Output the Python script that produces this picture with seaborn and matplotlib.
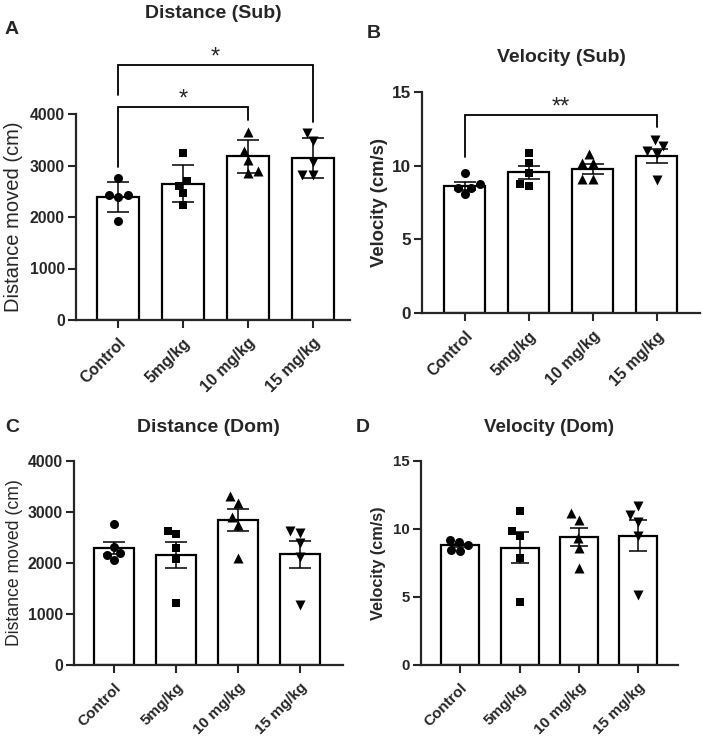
import matplotlib
matplotlib.use("Agg")
import matplotlib.pyplot as plt
import seaborn as sns
import numpy as np

# ---------------- data ----------------
categories = ["Control", "5mg/kg", "10 mg/kg", "15 mg/kg"]
markers = ["o", "s", "^", "v"]
marker_sizes = [6.5, 6.3, 7.2, 7.2]

# A: Distance (Sub)
dist_sub_points = [
    [2750, 2420, 2390, 2420, 1920],
    [3240, 2690, 2610, 2460, 2230],
    [3650, 3290, 3110, 2850, 2900],
    [3640, 3480, 3060, 2820, 2820],
]
dist_sub_mean = [2380, 2645, 3175, 3145]
dist_sub_err = [290, 363, 318, 382]

# B: Velocity (Sub)
vel_sub_points = [
    [9.52, 8.73, 8.05, 8.46, 8.50],
    [10.83, 10.20, 9.47, 8.64, 8.75],
    [10.78, 10.15, 10.15, 9.10, 9.10],
    [11.32, 11.73, 11.00, 10.78, 9.02],
]
vel_sub_mean = [8.63, 9.54, 9.77, 10.65]
vel_sub_err = [0.28, 0.45, 0.33, 0.45]

# C: Distance (Dom)
dist_dom_points = [
    [2765, 2052, 2190, 2320, 2157],
    [2627, 2569, 2288, 2072, 1209],
    [3314, 3183, 2900, 2740, 2092],
    [2634, 2595, 2386, 2111, 1176],
]
dist_dom_mean = [2295, 2150, 2840, 2170]
dist_dom_err = [120, 255, 215, 265]

# D: Velocity (Dom)
vel_dom_points = [
    [9.19, 8.46, 8.82, 9.07, 8.41],
    [11.35, 9.88, 9.49, 7.84, 4.61],
    [11.15, 10.66, 9.31, 8.58, 7.16],
    [11.69, 11.03, 10.54, 9.51, 5.15],
]
vel_dom_mean = [8.80, 8.63, 9.40, 9.50]
vel_dom_err = [0.13, 1.14, 0.68, 1.14]

# significance brackets: (group i, group j, bar level, left leg end, right leg end, label)
sig_dist_sub = [(0, 2, 4130, 2980, 3880, "*"), (0, 3, 4950, 4370, 3850, "*")]
sig_vel_sub = [(0, 3, 13.42, 10.6, 12.63, "**")]

yticks_dist = [0, 1000, 2000, 3000, 4000]
yticks_vel = [0, 5, 10, 15]

# ---------------- style ----------------
sns.set_style("ticks")
plt.rcParams["font.family"] = ["Liberation Sans", "DejaVu Sans"]
plt.rcParams["axes.linewidth"] = 1.5

W, H = 702, 737
fig = plt.figure(figsize=(W / 100, H / 100), dpi=100)


def px_rect(left, right, top, bottom):
    return [left / W, 1 - bottom / H, (right - left) / W, (bottom - top) / H]


panels = [
    dict(rect=(76, 350, 114, 320), xlim=(-0.65, 3.57), pts=dist_sub_points, mean=dist_sub_mean,
         err=dist_sub_err, yticks=yticks_dist, ylabel="Distance moved (cm)", ylab_bold=False,
         ylab_size=14.5, ylab_x=14, title="Distance (Sub)", title_xy=(213, 14), title_size=14,
         letter="A", letter_xy=(12, 30), tick_size=11.3, xtick_size=11.5, cap=8, sig=sig_dist_sub),
    dict(rect=(422, 700, 91.7, 313.3), xlim=(-0.67, 3.68), pts=vel_sub_points, mean=vel_sub_mean,
         err=vel_sub_err, yticks=yticks_vel, ylabel="Velocity (cm/s)", ylab_bold=True,
         ylab_size=13.3, ylab_x=379, title="Velocity (Sub)", title_xy=(561, 58), title_size=14,
         letter="B", letter_xy=(374, 33), tick_size=12.3, xtick_size=11.5, cap=8, sig=sig_vel_sub),
    dict(rect=(74, 343, 461, 665), xlim=(-0.65, 3.69), pts=dist_dom_points, mean=dist_dom_mean,
         err=dist_dom_err, yticks=yticks_dist, ylabel="Distance moved (cm)", ylab_bold=False,
         ylab_size=12.7, ylab_x=15, title="Distance (Dom)", title_xy=(208, 427), title_size=14,
         letter="C", letter_xy=(12, 427), tick_size=11.3, xtick_size=11, cap=8, sig=[]),
    dict(rect=(421, 678, 461, 665), xlim=(-0.66, 3.67), pts=vel_dom_points, mean=vel_dom_mean,
         err=vel_dom_err, yticks=yticks_vel, ylabel="Velocity (cm/s)", ylab_bold=True,
         ylab_size=11.7, ylab_x=379, title="Velocity (Dom)", title_xy=(549, 428), title_size=13.5,
         letter="D", letter_xy=(363, 427), tick_size=10.8, xtick_size=11, cap=6.5, sig=[]),
]

for p in panels:
    l, r, t, b = p["rect"]
    ax = fig.add_axes(px_rect(l, r, t, b))
    sns.barplot(x=categories, y=p["mean"], order=categories, color="white", saturation=1,
                edgecolor="black", linewidth=1.6, width=0.64, errorbar=None, ax=ax, zorder=1)
    for i, (cat, vals) in enumerate(zip(categories, p["pts"])):
        sns.swarmplot(x=[cat] * len(vals), y=vals, order=categories, marker=markers[i],
                      color="black", size=marker_sizes[i], ax=ax, zorder=3, linewidth=0)
    ax.errorbar(np.arange(len(categories)), p["mean"], yerr=p["err"], fmt="none",
                ecolor="black", elinewidth=1.1, capsize=p["cap"], capthick=1.1, zorder=4)

    ax.set_xlim(*p["xlim"])
    ax.set_ylim(p["yticks"][0], p["yticks"][-1])
    ax.set_yticks(p["yticks"])
    ax.set_yticklabels([str(v) for v in p["yticks"]], fontsize=p["tick_size"], fontweight="bold")
    ax.set_xticks(range(len(categories)))
    ax.set_xticklabels(categories, fontsize=p["xtick_size"], fontweight="bold", rotation=45,
                       ha="right", va="top", rotation_mode="anchor")
    ax.tick_params(axis="both", length=6, width=1.5, pad=2)
    ax.tick_params(axis="x", pad=5)
    sns.despine(ax=ax)
    for s in ("left", "bottom"):
        ax.spines[s].set_linewidth(1.6)
    ax.set_xlabel("")
    ax.set_ylabel(p["ylabel"], fontsize=p["ylab_size"],
                  fontweight="bold" if p["ylab_bold"] else "normal")
    ax.yaxis.label.set_verticalalignment("center")
    ax.yaxis.set_label_coords((p["ylab_x"] - l) / (r - l), 0.5)

    for (i, j, ylev, yl, yr, lab) in p["sig"]:
        ax.plot([i, i, j, j], [yl, ylev, ylev, yr], color="black", lw=1.3, clip_on=False,
                solid_joinstyle="miter", zorder=5)
        ax.annotate(lab, xy=((i + j) / 2, ylev), xytext=(0, 1), textcoords="offset points",
                    ha="center", va="baseline", fontsize=17, annotation_clip=False)

    fig.text(p["title_xy"][0] / W, 1 - p["title_xy"][1] / H, p["title"], ha="center",
             va="center", fontsize=p["title_size"], fontweight="bold")
    fig.text(p["letter_xy"][0] / W, 1 - p["letter_xy"][1] / H, p["letter"], ha="center",
             va="center", fontsize=14, fontweight="bold")

fig.savefig("out.png", dpi=100)
